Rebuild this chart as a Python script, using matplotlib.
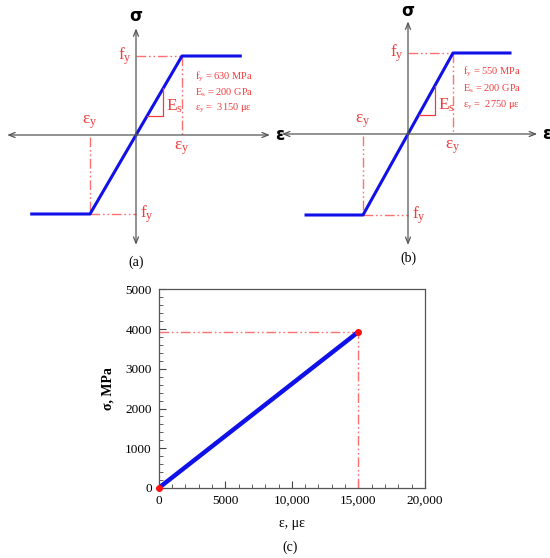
import matplotlib
matplotlib.use("Agg")
import matplotlib.pyplot as plt
from matplotlib.ticker import MultipleLocator

plt.rcParams['font.family'] = ['Liberation Serif', 'DejaVu Serif']
plt.rcParams['mathtext.fontset'] = 'custom'
plt.rcParams['mathtext.rm'] = 'Liberation Serif'
plt.rcParams['mathtext.it'] = 'Liberation Serif:italic'

# schematic bilinear law, normalised (eps/eps_y, sigma/f_y)
law_eps = [-2.3, -1.0, 1.0, 2.3]
law_sig = [-1.0, -1.0, 1.0, 1.0]
props_a = ['f$_\\mathregular{y}$ = 630 MPa', 'E$_\\mathregular{s}$ = 200 GPa',
           'ε$_\\mathregular{y}$ =  3150 με']
props_b = ['f$_\\mathregular{y}$ = 550 MPa', 'E$_\\mathregular{s}$ = 200 GPa',
           'ε$_\\mathregular{y}$ =  2750 με']

# panel (c) data
c_eps = [0, 15000]
c_sig = [0, 3930]
c_xticks = [0, 5000, 10000, 15000, 20000]
c_xlabels = ['0', '5000', '10,000', '15,000', '20,000']
c_yticks = [0, 1000, 2000, 3000, 4000, 5000]

W, H = 550, 558
fig = plt.figure(figsize=(W / 100, H / 100), dpi=100)

red = '#f03c3c'
lred = '#ff7070'
dd = (0, (7, 2, 1.2, 2, 1.2, 2))
grey = '#555555'


def schematic(px0, ox, oy, sx, sy, xr, yr, props, ty, tx, sig_off):
    ax = fig.add_axes([px0 / W, (H - 275) / H, 275 / W, 275 / H])
    ax.set_xlim((px0 - ox) / sx, (px0 + 275 - ox) / sx)
    ax.set_ylim((oy - 275) / sy, oy / sy)
    ax.axis('off')
    ar = dict(arrowstyle='<->,head_length=0.45,head_width=0.18', color=grey, lw=0.9,
              shrinkA=0, shrinkB=0)
    ax.annotate('', xy=(xr[0], 0), xytext=(xr[1], 0), arrowprops=ar)
    ax.annotate('', xy=(0, yr[0]), xytext=(0, yr[1]), arrowprops=ar)
    # dash-dot guides
    ax.plot([0, 1], [1, 1], color=lred, lw=1, ls=dd)
    ax.plot([1, 1], [1, 0], color=lred, lw=1, ls=dd)
    ax.plot([-1, -1], [-0.03, -1], color=lred, lw=1, ls=dd)
    ax.plot([-1, 0], [-1, -1], color=lred, lw=1, ls=dd)
    ax.plot(law_eps, law_sig, color='#1010e8', lw=2.2, solid_capstyle='butt')
    # E_s triangle
    ax.plot([0.24, 0.59, 0.59], [0.24, 0.24, 0.59], color=red, lw=0.9)
    ax.text(0.66, 0.36, 'E$_\\mathregular{s}$', color=red, fontsize=12.5, va='center')
    fs = 12.5
    ax.text(-0.08, 1.0, 'f$_\\mathregular{y}$', color=red, fontsize=fs, ha='right', va='center')
    ax.text(1.0, -0.05, 'ε$_\\mathregular{y}$', color=red, fontsize=fs, ha='center', va='top')
    ax.text(-1.0, 0.05, 'ε$_\\mathregular{y}$', color=red, fontsize=fs, ha='center', va='bottom')
    ax.text(0.08, -1.0, 'f$_\\mathregular{y}$', color=red, fontsize=fs, ha='left', va='center')
    for k, s in enumerate(props):
        ax.text(tx, ty[k], s, color=red, fontsize=7.5, va='center')
    ax.text(0, yr[1] + sig_off / sy, 'σ', fontsize=12, fontweight='bold', family='DejaVu Sans',
            ha='center', va='center')
    ax.text(xr[1] + 5 / sx, 0, 'ε', fontsize=12, fontweight='bold', family='DejaVu Sans',
            ha='left', va='center')
    return ax


ax_a = schematic(0, 136, 135, 46, 79, (-2.8, 2.91), (-1.39, 1.35), props_a,
                 [0.73, 0.54, 0.34], 1.28, 12)
ax_a.text(0, (135 - 262) / 79, '(a)', fontsize=10, ha='center', va='center')
ax_b = schematic(275, 408, 134, 45, 81, (-2.8, 2.87), (-1.37, 1.39), props_b,
                 [0.77, 0.56, 0.35], 1.22, 10)
ax_b.text(0, (134 - 258) / 81, '(b)', fontsize=10, ha='center', va='center')

# panel (c)
ax = fig.add_axes([158.7 / W, (H - 488) / H, 266.3 / W, 198.7 / H])
ax.plot([c_eps[1], c_eps[1]], [0, c_sig[1]], color=lred, lw=1, ls=dd)
ax.plot([0, c_eps[1]], [c_sig[1], c_sig[1]], color=lred, lw=1, ls=dd)
ax.plot(c_eps, c_sig, color='#1010e8', lw=3.2, solid_capstyle='butt')
ax.plot(c_eps, c_sig, 'o', color='#ff1010', ms=4, clip_on=False, zorder=5)
ax.set_xlim(0, 20000)
ax.set_ylim(0, 5000)
ax.set_xticks(c_xticks)
ax.set_xticklabels(c_xlabels)
ax.set_yticks(c_yticks)
ax.xaxis.set_minor_locator(MultipleLocator(1000))
ax.yaxis.set_minor_locator(MultipleLocator(200))
ax.tick_params(which='both', direction='in', top=False, right=False,
               labelsize=9.5, color='#444444')
ax.tick_params(which='major', length=5, pad=5)
ax.tick_params(which='minor', length=3)
for s in ax.spines.values():
    s.set_color('#555555')
    s.set_linewidth(0.9)
ax.set_xlabel('ε, με', fontsize=10, labelpad=7)
ax.set_ylabel('σ, MPa', fontsize=10, fontweight='bold', labelpad=8)
fig.text(290 / W, 1 - 547 / H, '(c)', fontsize=10, ha='center', va='center')

fig.savefig('out.png', dpi=100)
